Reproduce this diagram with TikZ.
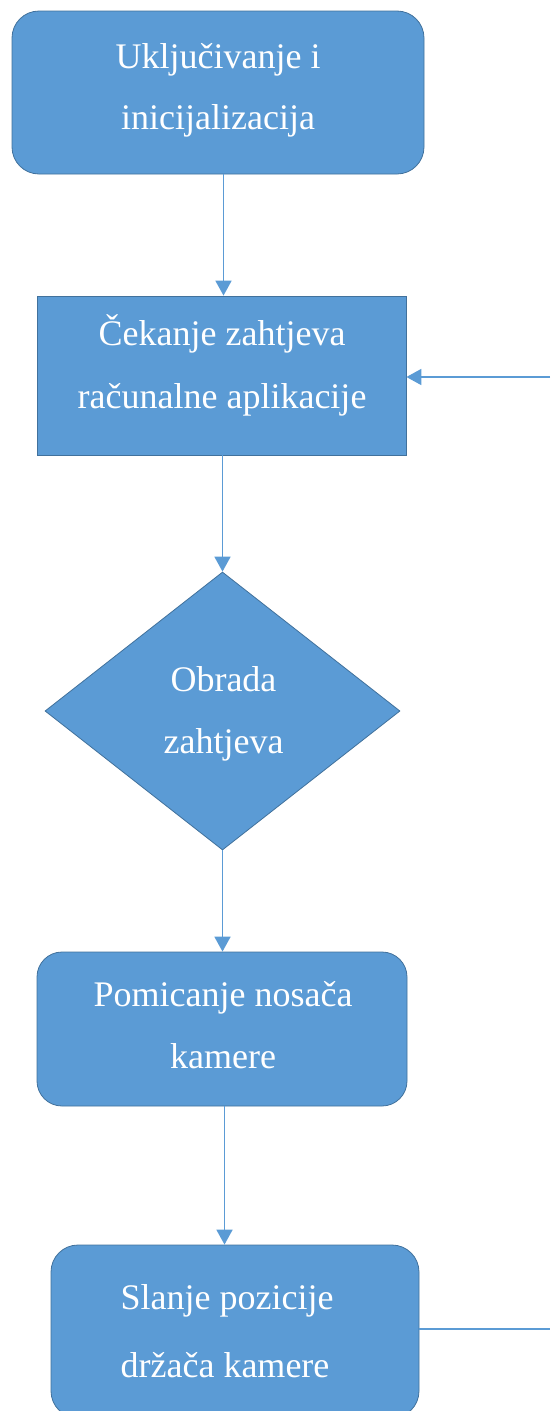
\documentclass[tikz,border=0pt]{standalone}
\usepackage{fontspec}
\setmainfont{Liberation Serif}
\usetikzlibrary{shapes.geometric,arrows.meta}
\definecolor{fillblue}{HTML}{5B9BD5}
\definecolor{edgeblue}{HTML}{41719C}
\begin{document}
\begin{tikzpicture}[x=1pt,y=-1pt,
  boxbase/.style={fill=fillblue,draw=edgeblue,line width=0.8pt,inner sep=0pt},
  roundbox/.style={boxbase,rectangle,rounded corners=27pt},
  sqbox/.style={boxbase,rectangle},
  decbox/.style={boxbase,diamond},
  lbl/.style={text=white,font=\fontsize{36}{40}\selectfont,anchor=base,inner sep=0pt},
  arr/.style={draw=fillblue,line width=1.8pt,-{Triangle[width=16pt,length=15pt]}},
  ln/.style={draw=fillblue,line width=1.8pt}]
\useasboundingbox (0,0) rectangle (550,1411);

\node[roundbox,minimum width=412pt,minimum height=163pt] (b1) at (218,92.5) {};
\node[sqbox,minimum width=369pt,minimum height=159pt] (b2) at (221.5,375.5) {};
\node[decbox,minimum width=355pt,minimum height=278pt] (d) at (222.5,711) {};
\node[roundbox,rounded corners=25pt,minimum width=370pt,minimum height=154pt] (b4) at (222,1029) {};
\node[roundbox,minimum width=368pt,minimum height=173pt] (b5) at (235,1331.5) {};

\node[lbl] (t1a) at (218,68) {Uključivanje i};
\node[lbl] (t1b) at (218,129) {inicijalizacija};
\node[lbl] (t2a) at (222,345) {Čekanje zahtjeva};
\node[lbl] (t2b) at (222,408) {računalne aplikacije};
\node[lbl] (t3a) at (223.5,691) {Obrada};
\node[lbl] (t3b) at (223.5,753) {zahtjeva};
\node[lbl] (t4a) at (223,1006) {Pomicanje nosača};
\node[lbl] (t4b) at (223,1068) {kamere};
\node[lbl] (t5a) at (227,1309) {Slanje pozicije};
\node[lbl] (t5b) at (225,1377) {držača kamere};

\coordinate (r1) at (550,377);
\coordinate (r2) at (550,1329);

\draw[arr] ([xshift=5.5pt]b1.south) -- ([xshift=2pt]b2.north);
\draw[arr] (b2.south -| d.north) -- (d.north);
\draw[arr] (d.south) -- (d.south |- b4.north);
\draw[arr] ([xshift=2.5pt]b4.south) -- ([xshift=2.5pt]b4.south |- b5.north);
\draw[arr] (r1) -- (r1 -| b2.east);
\draw[ln] (r2 -| b5.east) -- (r2);
\end{tikzpicture}
\end{document}
